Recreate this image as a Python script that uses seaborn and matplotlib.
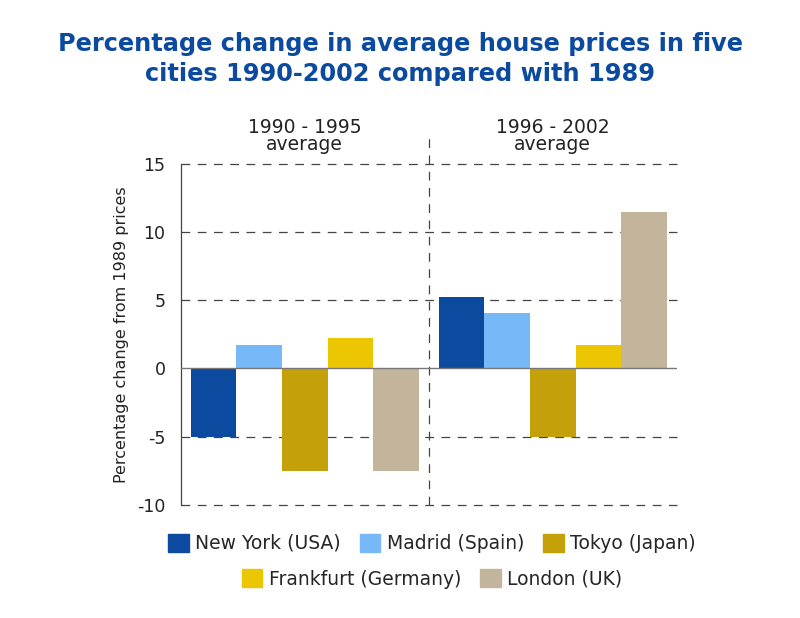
import pandas as pd
import matplotlib.pyplot as plt
import matplotlib.patches as mpatches
import seaborn as sns

# data
periods = ["1990 - 1995\naverage", "1996 - 2002\naverage"]
cities = ["New York (USA)", "Madrid (Spain)", "Tokyo (Japan)", "Frankfurt (Germany)", "London (UK)"]
values_1990_1995 = [-5.0, 1.7, -7.5, 2.2, -7.5]
values_1996_2002 = [5.2, 4.1, -5.0, 1.7, 11.5]
colors = ["#0b4a9e", "#76b8f8", "#c4a00a", "#ecc503", "#c2b59b"]

rows = []
for p, vals in zip(periods, [values_1990_1995, values_1996_2002]):
    for c, v in zip(cities, vals):
        rows.append({"period": p, "city": c, "value": v})
df = pd.DataFrame(rows)

sns.set_style("white")
plt.rcParams['font.family'] = ['DejaVu Sans']

fig = plt.figure(figsize=(8, 6.18), dpi=100)
ax = fig.add_axes([0.226, 0.183, 0.62, 0.552])

sns.barplot(data=df, x="period", y="value", hue="city", hue_order=cities,
            palette=colors, width=0.92, saturation=1, ax=ax, legend=False,
            linewidth=0, edgecolor="none", zorder=2)

ax.set_ylim(-10, 15)
ax.set_xlim(-0.5, 1.5)
ax.set_yticks([-10, -5, 0, 5, 10, 15])
ax.set_yticklabels(["-10", "-5", "0", "5", "10", "15"], fontsize=12.5, color="#222222")
ax.set_ylabel("Percentage change from 1989 prices", fontsize=11.5, color="#222222", labelpad=6)
ax.set_xlabel("")

# category labels on top
ax.xaxis.tick_top()
ax.tick_params(axis="x", length=0, labelsize=13.5, labelcolor="#222222", pad=7)
ax.tick_params(axis="y", length=5, color="#444444", pad=6)
for lbl in ax.get_xticklabels():
    lbl.set_linespacing(0.85)

# dashed grid and separators
for yv in [-10, -5, 5, 10, 15]:
    ax.axhline(yv, color="#444444", lw=0.9, ls=(0, (7, 6)), zorder=0, clip_on=False)
ax.axhline(0, color="#777777", lw=1, zorder=3)
ax.axvline(0.5, ymin=0, ymax=1.078, color="#444444", lw=0.9, ls=(0, (7, 6)),
           clip_on=False, zorder=0)

for s in ["top", "right", "bottom"]:
    ax.spines[s].set_visible(False)
ax.spines["left"].set_color("#444444")
ax.spines["left"].set_linewidth(0.9)

fig.suptitle("Percentage change in average house prices in five\ncities 1990-2002 compared with 1989",
             fontsize=17.3, fontweight="bold", color="#0b4a9e", y=0.948, linespacing=1.3)

# legend in two centered rows
handles = [mpatches.Patch(color=c, label=n) for c, n in zip(colors, cities)]
leg1 = fig.legend(handles=handles[:3], ncol=3, loc="center", bbox_to_anchor=(0.54, 0.121),
                  frameon=False, fontsize=13.5, handlelength=1.1, handleheight=1.1,
                  handletextpad=0.35, columnspacing=1.0)
leg2 = fig.legend(handles=handles[3:], ncol=2, loc="center", bbox_to_anchor=(0.54, 0.063),
                  frameon=False, fontsize=13.5, handlelength=1.1, handleheight=1.1,
                  handletextpad=0.35, columnspacing=1.0)

fig.savefig("out.png", dpi=100, facecolor="white")
